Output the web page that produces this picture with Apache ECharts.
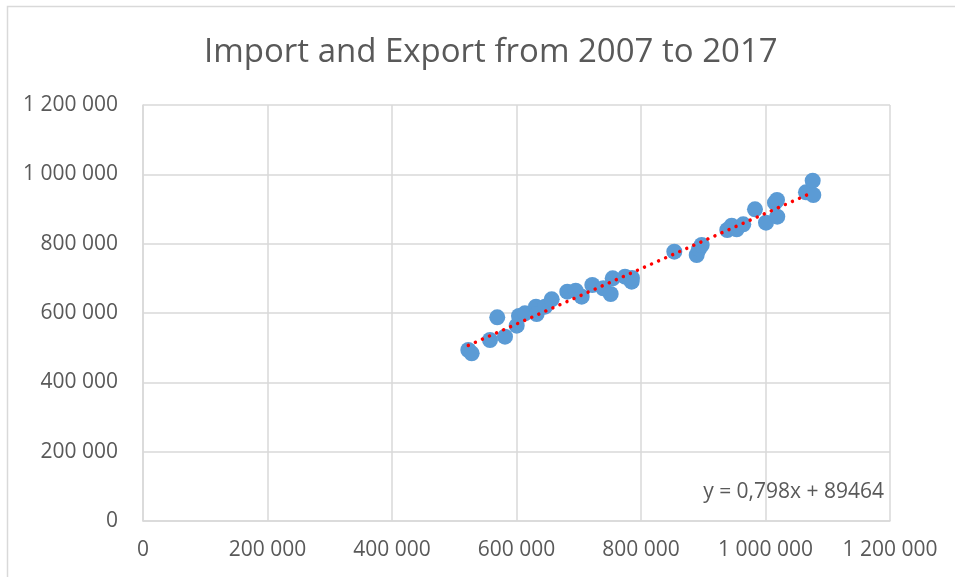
<!DOCTYPE html>
<html>
<head>
<meta charset="utf-8">
<script src="https://cdn.jsdelivr.net/npm/echarts@6/dist/echarts.min.js"></script>
<style>
  html, body { margin: 0; padding: 0; background: #ffffff; }
  #chart { width: 955px; height: 577px; }
</style>
</head>
<body>
<div id="chart"></div>
<script>
// Import (x) vs. export (y) observations
const importValues = [
  522600, 528000, 557400, 569100, 581500, 600300, 604000, 613600, 631300, 632400,
  645800, 656500, 681600, 695100, 704700, 721800, 739400, 751300, 754500, 774300,
  785000, 785500, 853500, 889500, 893200, 897500, 938600, 945700, 953700, 964300,
  983100, 1000800, 1015200, 1018900, 1018500, 1065000, 1075800, 1076800
];
const exportValues = [
  493300, 483700, 522100, 587600, 531600, 563400, 591300, 599100, 618200, 597100,
  618200, 639500, 661400, 664300, 647000, 680800, 671200, 654800, 700100, 704700,
  690300, 701000, 776800, 767300, 784600, 796200, 839400, 851800, 841400, 855900,
  899100, 860500, 918200, 877800, 926000, 948200, 981600, 940400
];

// Linear trend: y = slope * x + intercept
const trendSlope = 0.798;
const trendIntercept = 89464;

const axisTicks = [0, 200000, 400000, 600000, 800000, 1000000, 1200000];

const points = importValues.map((x, i) => [x, exportValues[i]]);
const xMinData = Math.min(...importValues);
const xMaxData = Math.max(...importValues);
const trendPoints = [xMinData, xMaxData].map(x => [x, trendSlope * x + trendIntercept]);

const fmt = v => String(v).replace(/\B(?=(\d{3})+(?!\d))/g, ' ');
const FONT = '"Open Sans", Lato, sans-serif';
const TEXT = '#595959';
const GRID = '#d9d9d9';

const chart = echarts.init(document.getElementById('chart'), null, { renderer: 'canvas' });
chart.setOption({
  backgroundColor: '#ffffff',
  animation: false,
  title: {
    text: 'Import and Export from 2007 to 2017',
    left: 199,
    top: 31,
    textStyle: { fontFamily: FONT, fontSize: 33, fontWeight: 'normal', color: TEXT }
  },
  grid: { left: 143, right: 65, top: 105, bottom: 56, containLabel: false },
  xAxis: {
    type: 'value',
    min: axisTicks[0],
    max: axisTicks[axisTicks.length - 1],
    interval: axisTicks[1] - axisTicks[0],
    axisLine: { show: true, lineStyle: { color: GRID, width: 1.5 } },
    axisTick: { show: false },
    splitLine: { show: true, lineStyle: { color: GRID, width: 1.5 } },
    axisLabel: { fontFamily: FONT, fontSize: 21, color: TEXT, margin: 19, formatter: fmt }
  },
  yAxis: {
    type: 'value',
    min: axisTicks[0],
    max: axisTicks[axisTicks.length - 1],
    interval: axisTicks[1] - axisTicks[0],
    axisLine: { show: true, lineStyle: { color: GRID, width: 1.5 } },
    axisTick: { show: false },
    splitLine: { show: true, lineStyle: { color: GRID, width: 1.5 } },
    axisLabel: { fontFamily: FONT, fontSize: 21, color: TEXT, margin: 25, formatter: fmt }
  },
  graphic: [
    {
      type: 'rect',
      shape: { x: 7.5, y: 6.5, width: 1200, height: 800 },
      style: { fill: null, stroke: GRID, lineWidth: 1.5 },
      silent: true
    },
    {
      type: 'text',
      right: 71,
      top: 482,
      style: {
        text: 'y = 0,798x + 89464',
        fontFamily: FONT,
        fontSize: 21,
        fill: TEXT
      },
      z: 10
    }
  ],
  series: [
    {
      type: 'scatter',
      data: points,
      symbol: 'circle',
      symbolSize: 16,
      itemStyle: { color: '#5b9bd5', opacity: 1 },
      z: 2
    },
    {
      type: 'line',
      data: trendPoints,
      showSymbol: false,
      symbol: 'none',
      lineStyle: { color: '#ff0000', width: 3.5, type: [0.01, 7.7], cap: 'round' },
      z: 3
    }
  ]
});
</script>
</body>
</html>
